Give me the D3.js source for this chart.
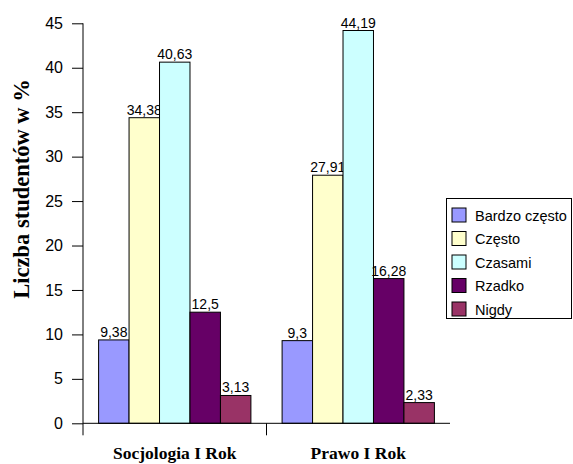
<!DOCTYPE html>
<html><head><meta charset="utf-8">
<script src="https://cdn.jsdelivr.net/npm/d3@7"></script>
<style>body{margin:0;background:#fff}svg{display:block}</style>
</head><body>
<svg id="c" width="573" height="464"></svg>
<script>
const categories = ["Socjologia I Rok", "Prawo I Rok"];
const seriesNames = ["Bardzo często", "Często", "Czasami", "Rzadko", "Nigdy"];
const bardzoCzesto = [9.38, 9.3];
const czesto = [34.38, 27.91];
const czasami = [40.63, 44.19];
const rzadko = [12.5, 16.28];
const nigdy = [3.13, 2.33];
const yTicks = [0, 5, 10, 15, 20, 25, 30, 35, 40, 45];
const colors = ["#9999FF", "#FFFFCC", "#CCFFFF", "#660066", "#993366"];

const series = [bardzoCzesto, czesto, czasami, rzadko, nigdy];
const svg = d3.select("#c");
const x0 = 83, x1 = 450, yTop = 23.3, yBot = 423.3;

const y = d3.scaleLinear().domain([0, 45]).range([yBot, yTop]);
const xBand = d3.scaleBand().domain(categories).range([x0, x1]).paddingInner(0.17).paddingOuter(0.085);
const xInner = d3.scaleBand().domain(seriesNames).range([0, xBand.bandwidth()]);

// bars
categories.forEach((cat, ci) => {
  const g = svg.append("g").attr("transform", `translate(${xBand(cat)},0)`);
  seriesNames.forEach((s, si) => {
    const v = series[si][ci];
    g.append("rect")
      .attr("x", xInner(s))
      .attr("y", y(v))
      .attr("width", xInner.bandwidth())
      .attr("height", yBot - y(v))
      .attr("fill", colors[si])
      .attr("stroke", "#000").attr("stroke-width", 1);
    g.append("text")
      .attr("x", xInner(s) + xInner.bandwidth() / 2)
      .attr("y", y(v) - 3)
      .attr("text-anchor", "middle")
      .attr("font-family", "Liberation Sans, Arial, sans-serif")
      .attr("font-size", 14)
      .text(String(v).replace(".", ","));
  });
});

// y axis
const yAxis = d3.axisLeft(y).tickValues(yTicks).tickSize(11).tickPadding(9);
const ya = svg.append("g").attr("transform", `translate(${x0},0)`).call(yAxis);
ya.select(".domain").attr("stroke", "#000").attr("d", `M0,${yTop}V${yBot}`);
ya.selectAll("text").attr("font-family", "Liberation Sans, Arial, sans-serif").attr("font-size", 16).attr("fill", "#000");

// x axis baseline and ticks
svg.append("line").attr("x1", x0).attr("x2", x1).attr("y1", yBot).attr("y2", yBot).attr("stroke", "#000");
[x0, xBand(categories[1]) - xBand.step() * 0.17 / 2].forEach(xx => {
  svg.append("line").attr("x1", xx).attr("x2", xx).attr("y1", yBot).attr("y2", yBot + 12).attr("stroke", "#000");
});

// category labels
categories.forEach(cat => {
  svg.append("text")
    .attr("x", xBand(cat) + xBand.bandwidth() / 2)
    .attr("y", 459)
    .attr("text-anchor", "middle")
    .attr("font-family", "Liberation Serif, Times New Roman, serif")
    .attr("font-weight", "bold")
    .attr("font-size", 17.5)
    .text(cat);
});

// y label
svg.append("text")
  .attr("transform", "translate(29,189) rotate(-90)")
  .attr("text-anchor", "middle")
  .attr("font-family", "Liberation Serif, Times New Roman, serif")
  .attr("font-weight", "bold")
  .attr("font-size", 22.5)
  .text("Liczba studentów w %");

// legend
const lg = svg.append("g");
lg.append("rect").attr("x", 446.5).attr("y", 198.5).attr("width", 125).attr("height", 120)
  .attr("fill", "#fff").attr("stroke", "#000");
seriesNames.forEach((s, i) => {
  const yy = 208 + i * 23.5;
  lg.append("rect").attr("x", 452).attr("y", yy).attr("width", 14).attr("height", 14)
    .attr("fill", colors[i]).attr("stroke", "#000");
  lg.append("text").attr("x", 475).attr("y", yy + 12.5)
    .attr("font-family", "Liberation Sans, Arial, sans-serif").attr("font-size", 14.5)
    .text(s);
});
</script>
</body></html>
